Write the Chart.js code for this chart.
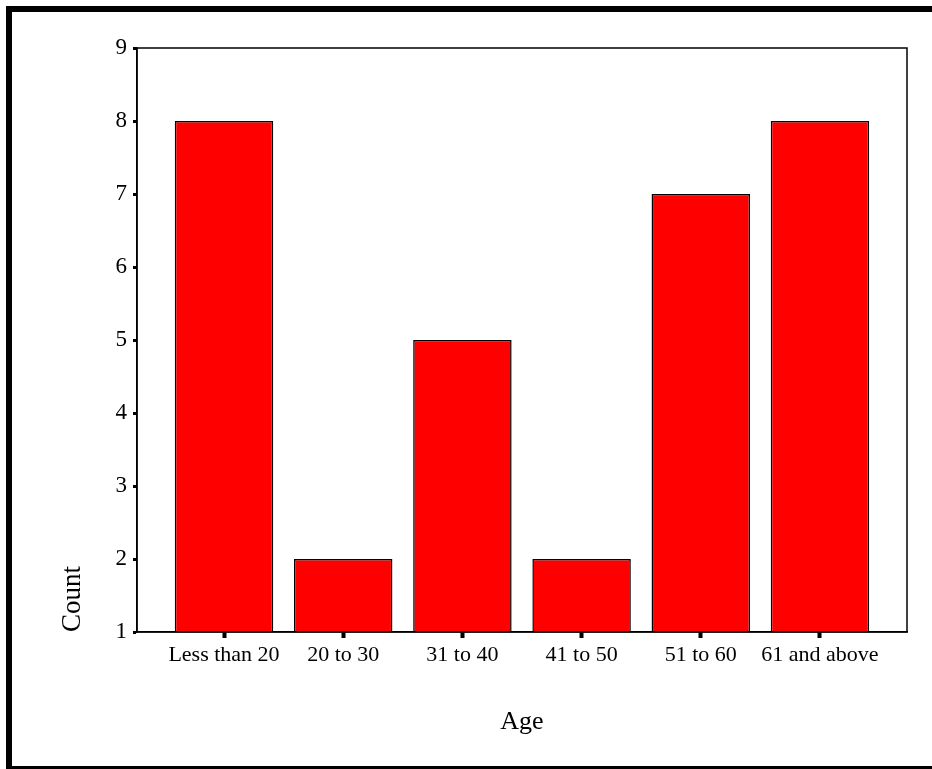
<!DOCTYPE html>
<html>
<head>
<meta charset="utf-8">
<script src="https://cdn.jsdelivr.net/npm/chart.js@4"></script>
<style>
    html, body { margin: 0; padding: 0; background: #fff; overflow: hidden; }
    #frame {
        position: absolute; left: 6px; top: 6px; width: 940px; height: 763px;
        box-sizing: border-box;
        border-left: 6px solid #000; border-top: 6px solid #000; border-bottom: 3px solid #000;
    }
    #wrap { position: absolute; left: 0; top: 0; width: 932px; height: 769px; }
</style>
</head>
<body>
<div id="frame"></div>
<div id="wrap"><canvas id="ageChart"></canvas></div>
<script>
const categories = ['Less than 20', '20 to 30', '31 to 40', '41 to 50', '51 to 60', '61 and above'];
const counts = [8, 2, 5, 2, 7, 8];
const yTicks = [1, 2, 3, 4, 5, 6, 7, 8, 9];

const serif = "'Liberation Serif', 'Times New Roman', serif";

// box round the plot area
const plotBox = {
    id: 'plotBox',
    afterDatasetsDraw(chart) {
        const a = chart.chartArea;
        const ctx = chart.ctx;
        ctx.save();
        ctx.strokeStyle = '#000';
        ctx.lineWidth = 1.5;
        ctx.strokeRect(a.left, a.top, a.right - a.left, a.bottom - a.top);
        ctx.restore();
    }
};

function initializeChart() {
    new Chart(document.getElementById('ageChart'), {
        type: 'bar',
        data: {
            datasets: [{
                label: 'Count',
                data: counts.map((v, i) => ({ x: i, y: v })),
                backgroundColor: '#ff0000',
                borderColor: '#000',
                borderWidth: 1.5,
                categoryPercentage: 1,
                barPercentage: 0.826
            }]
        },
        options: {
            responsive: true,
            maintainAspectRatio: false,
            animation: false,
            layout: { padding: { top: 48, right: 25, left: 0, bottom: 0 } },
            plugins: { legend: { display: false }, tooltip: { enabled: false } },
            scales: {
                x: {
                    type: 'linear',
                    min: -0.73,
                    max: 5.73,
                    offset: false,
                    afterBuildTicks: s => { s.ticks = categories.map((c, i) => ({ value: i })); },
                    afterFit: s => { s.height = 137; },
                    grid: { display: true, offset: false, drawOnChartArea: false, tickLength: 6, tickWidth: 4, color: '#000' },
                    border: { display: true, color: '#000', width: 1.5 },
                    ticks: {
                        autoSkip: false, maxRotation: 0, padding: 4, color: '#000',
                        font: { family: serif, size: 22 },
                        callback: v => categories[v]
                    },
                    title: {
                        display: true, text: 'Age', color: '#000',
                        font: { family: serif, size: 26 },
                        padding: { top: 0, bottom: 31 }
                    }
                },
                y: {
                    min: yTicks[0],
                    max: yTicks[yTicks.length - 1],
                    afterBuildTicks: s => { s.ticks = yTicks.map(v => ({ value: v })); },
                    afterFit: s => { s.width = 137; },
                    grid: { display: true, drawOnChartArea: false, tickLength: 4, tickWidth: 3, color: '#000' },
                    border: { display: true, color: '#000', width: 1.5 },
                    ticks: {
                        padding: 6, color: '#000',
                        font: { family: serif, size: 23 }
                    },
                    title: {
                        display: true, text: 'Count', color: '#000', align: 'start',
                        font: { family: serif, size: 27 },
                        padding: { top: 57, bottom: 0 }
                    }
                }
            }
        },
        plugins: [plotBox]
    });
}

document.addEventListener('DOMContentLoaded', initializeChart);
</script>
</body>
</html>
